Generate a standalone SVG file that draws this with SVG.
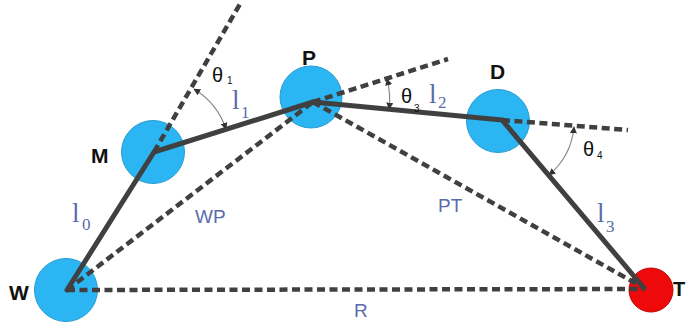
<svg xmlns="http://www.w3.org/2000/svg" width="686" height="329" viewBox="0 0 686 329">
<defs>
<marker id="ah" viewBox="0 0 10 10" refX="9" refY="5" markerWidth="7" markerHeight="7" markerUnits="userSpaceOnUse" orient="auto-start-reverse">
<path d="M0,0 L10,5 L0,10 z" fill="#333"/>
</marker>
<style>
.bg{fill:#fff}
.joint{fill:#2bb5f2;stroke:#2a9bd0;stroke-width:1}
.target{fill:#ee0a0a;stroke:#c00000;stroke-width:1}
.arm{fill:none;stroke:#404040;stroke-width:5;stroke-linejoin:round;stroke-linecap:round}
.dash{fill:none;stroke:#404040;stroke-width:4.5;stroke-dasharray:8 4.5}
.arc{fill:none;stroke:#8a8a8a;stroke-width:1.2}
.lab{font-family:"Liberation Sans",Arial,sans-serif;font-weight:bold;font-size:21px;fill:#111}
.blue{font-family:"Liberation Sans",Arial,sans-serif;font-size:19px;fill:#5b6bab}
.len{font-family:"Liberation Serif","Times New Roman",serif;font-size:27px;fill:#5b6bab}
.lsub{font-family:"Liberation Serif","Times New Roman",serif;font-size:17px;fill:#5b6bab}
.th{font-family:"Liberation Sans",Arial,sans-serif;font-size:20px;fill:#111}
.tsub{font-family:"Liberation Sans",Arial,sans-serif;font-size:10px;fill:#111}
</style>
</defs>
<rect class="bg" x="0" y="0" width="686" height="329"/>
<g id="node-W"><circle class="joint" cx="66" cy="290" r="31.5"/><text class="lab" x="9" y="300">W</text></g>
<g id="node-M"><circle class="joint" cx="153" cy="152" r="31.5"/><text class="lab" x="91" y="163">M</text></g>
<g id="node-P"><circle class="joint" cx="311" cy="97" r="31"/><text class="lab" x="302" y="65">P</text></g>
<g id="node-D"><circle class="joint" cx="498" cy="121" r="31.5"/><text class="lab" x="490" y="79">D</text></g>
<g id="node-T"><circle class="target" cx="651" cy="290" r="22"/><text class="lab" x="673" y="296" style="font-size:20px">T</text></g>
<g id="connectors">
<path class="dash" d="M67,290 L644,289"/>
<path class="dash" d="M67,290 L313,102"/>
<path class="dash" d="M313,102 L644,288"/>
<path class="dash" d="M154,152 L240,4"/>
<path class="dash" d="M313,102 L448,59"/>
<path class="dash" d="M502,120 L628,130"/>
<path class="arm" d="M67,290 L154,152 L313,102 L502,120 L644,288"/>
<path class="arc" d="M194,89 A75,75 0 0 1 226,129" marker-start="url(#ah)" marker-end="url(#ah)"/>
<path class="arc" d="M387,79 A76,76 0 0 1 389,109" marker-start="url(#ah)" marker-end="url(#ah)"/>
<path class="arc" d="M574,127 A72,72 0 0 1 549,175" marker-start="url(#ah)" marker-end="url(#ah)"/>
</g>
<g id="labels">
<text class="blue" x="195" y="223">WP</text>
<text class="blue" x="438" y="212">PT</text>
<text class="blue" x="354" y="317">R</text>
<text class="len" x="72" y="222">l</text><text class="lsub" x="82" y="230">0</text>
<text class="len" x="232" y="109">l</text><text class="lsub" x="241" y="118">1</text>
<text class="len" x="429" y="103">l</text><text class="lsub" x="438" y="108">2</text>
<text class="len" x="597" y="222">l</text><text class="lsub" x="606" y="232">3</text>
<text class="th" x="212" y="82">θ</text><text class="tsub" x="227" y="84">1</text>
<text class="th" x="401" y="103">θ</text><text class="tsub" x="414" y="112">3</text>
<text class="th" x="583" y="156">θ</text><text class="tsub" x="597" y="159">4</text>
</g>
</svg>
